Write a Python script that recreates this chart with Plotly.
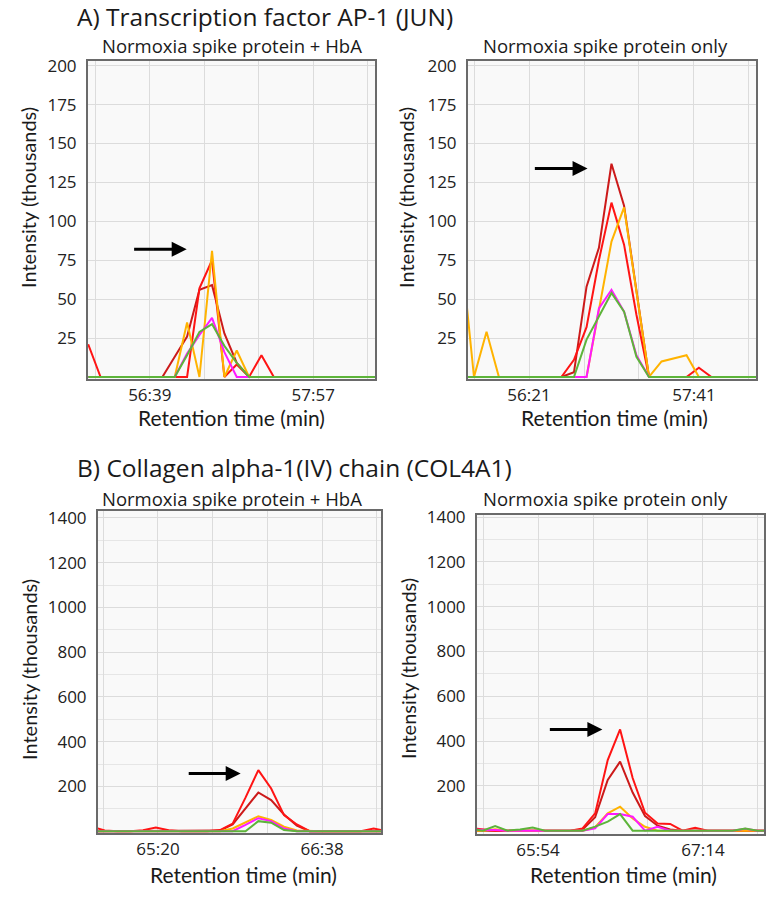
import plotly.graph_objects as go

W, H = 772, 898

# ---------------- Data (retention time in seconds, intensity in thousands) ----------------
# A) JUN, left panel: Normoxia spike protein + HbA
a1_time = [3369.6, 3375.5, 3381.4, 3387.3, 3393.2, 3399.1, 3405.0, 3410.9, 3416.8, 3422.7,
           3428.7, 3434.6, 3440.5, 3446.4, 3452.3, 3458.2, 3464.1, 3470.0, 3475.9, 3481.8,
           3487.7, 3493.6, 3499.5, 3505.4, 3511.3]
a1_red_dark = [0, 0, 0, 0, 0, 0, 0, 13, 26, 56, 59, 28, 9, 0, 0, 0, 0, 0, 0, 0, 0, 0, 0, 0, 0]
a1_red = [21, 0, 0, 0, 0, 0, 0, 0, 0, 57, 75, 0, 8, 0, 14, 0, 0, 0, 0, 0, 0, 0, 0, 0, 0]
a1_orange = [0, 0, 0, 0, 0, 0, 0, 0, 35, 0, 81, 0, 17, 0, 0, 0, 0, 0, 0, 0, 0, 0, 0, 0, 0]
a1_magenta = [0, 0, 0, 0, 0, 0, 0, 0, 15, 27, 38, 16, 0, 0, 0, 0, 0, 0, 0, 0, 0, 0, 0, 0, 0]
a1_green = [0, 0, 0, 0, 0, 0, 0, 0, 14, 29, 34, 20, 9, 0, 0, 0, 0, 0, 0, 0, 0, 0, 0, 0, 0]

# A) JUN, right panel: Normoxia spike protein only
a2_time = [3348.2, 3354.3, 3360.4, 3366.4, 3372.5, 3378.5, 3384.6, 3390.7, 3396.7, 3402.8,
           3408.9, 3414.9, 3421.0, 3427.1, 3433.1, 3439.2, 3445.3, 3451.3, 3457.4, 3463.4,
           3469.5, 3475.6, 3481.6, 3487.7, 3493.8]
a2_red_dark = [0, 0, 0, 0, 0, 0, 0, 0, 0, 3, 58, 83, 137, 110, 55, 0, 0, 0, 0, 0, 0, 0, 0, 0, 0]
a2_red = [0, 0, 0, 0, 0, 0, 0, 0, 0, 11, 32, 75, 112, 85, 40, 0, 0, 0, 0, 6, 0, 0, 0, 0, 0]
a2_orange = [80, 0, 29, 0, 0, 0, 0, 0, 0, 0, 0, 43, 87, 109, 55, 0, 10, 12, 14, 0, 0, 0, 0, 0, 0]
a2_magenta = [0, 0, 0, 0, 0, 0, 0, 0, 0, 0, 0, 44, 56, 42, 14, 0, 0, 0, 0, 0, 0, 0, 0, 0, 0]
a2_green = [0, 0, 0, 0, 0, 0, 0, 0, 0, 0, 24, 39, 54, 42, 13, 0, 0, 0, 0, 0, 0, 0, 0, 0, 0]

# B) COL4A1, left panel: Normoxia spike protein + HbA
b1_time = [3888.6, 3894.7, 3900.8, 3906.9, 3912.9, 3919.0, 3925.1, 3931.2, 3937.3, 3943.4,
           3949.5, 3955.5, 3961.6, 3967.7, 3973.8, 3979.9, 3986.0, 3992.1, 3998.1, 4004.2,
           4010.3, 4016.4, 4022.5, 4028.5]
b1_red_dark = [0, 0, 0, 0, 0, 0, 0, 0, 0, 0, 3, 30, 100, 173, 139, 75, 25, 0, 0, 0, 0, 0, 0, 0]
b1_red = [20, 3, 0, 0, 4, 16, 4, 0, 0, 0, 5, 34, 150, 273, 191, 72, 30, 0, 0, 0, 0, 0, 12, 0]
b1_orange = [0, 0, 0, 0, 0, 0, 0, 0, 0, 0, 0, 12, 40, 67, 50, 20, 3, 0, 0, 0, 0, 0, 0, 0]
b1_magenta = [0, 0, 0, 0, 0, 0, 0, 0, 0, 0, 0, 0, 28, 58, 45, 12, 0, 0, 0, 0, 0, 0, 0, 0]
b1_green = [0, 0, 0, 0, 0, 0, 0, 0, 0, 0, 0, 0, 0, 45, 38, 5, 0, 0, 0, 0, 0, 0, 0, 0]

# B) COL4A1, right panel: Normoxia spike protein only
b2_time = [3921.1, 3927.1, 3933.2, 3939.2, 3945.3, 3951.4, 3957.4, 3963.5, 3969.6, 3975.6,
           3981.7, 3987.8, 3993.8, 3999.9, 4005.9, 4012.0, 4018.1, 4024.1, 4030.2, 4036.3,
           4042.3, 4048.4, 4054.5, 4060.5, 4066.6]
b2_red_dark = [0, 0, 0, 0, 0, 0, 0, 0, 0, 5, 60, 226, 308, 170, 65, 22, 5, 0, 0, 0, 0, 0, 0, 0, 0]
b2_red = [12, 5, 0, 0, 0, 0, 0, 0, 0, 10, 77, 315, 452, 235, 80, 32, 30, 0, 13, 0, 0, 0, 0, 0, 0]
b2_orange = [0, 0, 6, 0, 0, 0, 0, 0, 0, 0, 15, 77, 107, 54, 17, 0, 0, 0, 0, 0, 0, 0, 0, 0, 0]
b2_magenta = [4, 5, 3, 0, 0, 0, 0, 0, 0, 0, 10, 74, 74, 62, 0, 17, 0, 0, 0, 0, 0, 0, 8, 0, 0]
b2_green = [8, 0, 20, 0, 5, 14, 0, 0, 0, 0, 18, 40, 74, 0, 0, 0, 0, 0, 0, 0, 0, 0, 10, 0, 0]

# Tick positions (seconds) and labels
a1_xticks = [3373, 3399, 3425, 3451, 3477, 3503]
a1_xlabels = ["", "56:39", "", "", "57:57", ""]
a2_xticks = [3354.33, 3381, 3407.67, 3434.33, 3461, 3487.67]
a2_xlabels = ["", "56:21", "", "", "57:41", ""]
b1_xticks = [3894, 3920, 3946, 3972, 3998, 4024]
b1_xlabels = ["", "65:20", "", "", "66:38", ""]
b2_xticks = [3927.33, 3954, 3980.67, 4007.33, 4034, 4060.67]
b2_xlabels = ["", "65:54", "", "", "67:14", ""]
a_yticks = [25, 50, 75, 100, 125, 150, 175, 200]
b_yticks = [200, 400, 600, 800, 1000, 1200, 1400]
b_yminor = [100, 300, 500, 700, 900, 1100, 1300]

# Arrows: (tail time, head time, intensity)
a1_arrow = (3390.8, 3416.6, 82)
a2_arrow = (3383.1, 3409.4, 134)
b1_arrow = (3933.9, 3959.3, 258)
b2_arrow = (3959.0, 3985.2, 452)

series_colors = ["#cc1a1a", "#ff1414", "#ffb300", "#ff1aff", "#5db43a"]

# ---------------- Layout helpers ----------------
def px_x(p):
    return p / W

def px_y(p):
    return 1 - p / H

TICK_FONT = dict(family="Open Sans", size=17, color="#222222")

panels = [
    dict(ax="", t=a1_time, ys=[a1_red_dark, a1_red, a1_orange, a1_magenta, a1_green],
         dom_x=(88, 375), dom_y=(61, 379), xr=[3369.5, 3506.5], yr=[-1.3, 203],
         xt=a1_xticks, xl=a1_xlabels, yt=a_yticks, ym=None, arrow=a1_arrow),
    dict(ax="2", t=a2_time, ys=[a2_red_dark, a2_red, a2_orange, a2_magenta, a2_green],
         dom_x=(468, 756), dom_y=(61, 379), xr=[3351.4, 3491.1], yr=[-1.3, 203],
         xt=a2_xticks, xl=a2_xlabels, yt=a_yticks, ym=None, arrow=a2_arrow),
    dict(ax="3", t=b1_time, ys=[b1_red_dark, b1_red, b1_orange, b1_magenta, b1_green],
         dom_x=(98, 381), dom_y=(511, 833), xr=[3891.5, 4026.0], yr=[-8, 1431],
         xt=b1_xticks, xl=b1_xlabels, yt=b_yticks, ym=b_yminor, arrow=b1_arrow),
    dict(ax="4", t=b2_time, ys=[b2_red_dark, b2_red, b2_orange, b2_magenta, b2_green],
         dom_x=(477, 764), dom_y=(515, 834), xr=[3924.4, 4063.6], yr=[-15, 1409],
         xt=b2_xticks, xl=b2_xlabels, yt=b_yticks, ym=b_yminor, arrow=b2_arrow),
]

fig = go.Figure()
layout = dict(
    width=W, height=H, margin=dict(l=0, r=0, t=0, b=0, pad=0, autoexpand=False),
    paper_bgcolor="white", plot_bgcolor="#f9f9f9", showlegend=False,
)

annotations = []
for p in panels:
    xa = "x" + p["ax"]
    ya = "y" + p["ax"]
    for vals, col in zip(p["ys"], series_colors):
        fig.add_trace(go.Scatter(x=p["t"], y=vals, mode="lines", xaxis=xa, yaxis=ya,
                                 line=dict(color=col, width=2), hoverinfo="skip"))
    xkey = "xaxis" + p["ax"]
    ykey = "yaxis" + p["ax"]
    layout[xkey] = dict(
        domain=[px_x(p["dom_x"][0]), px_x(p["dom_x"][1])], anchor=ya, range=p["xr"],
        tickmode="array", tickvals=p["xt"], ticktext=p["xl"], showgrid=True,
        gridcolor="#dcdcdc", gridwidth=1, zeroline=False, showline=True, linecolor="#6a6a6a",
        linewidth=2, mirror=True, ticks="", tickfont=TICK_FONT, ticklabelstandoff=0,
        layer="below traces", automargin=False,
    )
    ydict = dict(
        domain=[px_y(p["dom_y"][1]), px_y(p["dom_y"][0])], anchor=xa, range=p["yr"],
        tickmode="array", tickvals=p["yt"], showgrid=True, gridcolor="#dcdcdc", gridwidth=1,
        zeroline=False, showline=True, linecolor="#6a6a6a", linewidth=2, mirror=True,
        ticks="", tickfont=TICK_FONT, ticklabelstandoff=6, layer="below traces",
        automargin=False,
    )
    if p["ym"] is not None:
        ydict["minor"] = dict(tickmode="array", tickvals=p["ym"], showgrid=True,
                              gridcolor="#e6e6e6", gridwidth=1, ticks="")
    layout[ykey] = ydict
    tail_t, head_t, v = p["arrow"]
    annotations.append(dict(
        x=head_t, y=v, ax=tail_t, ay=v, xref=xa, yref=ya, axref=xa, ayref=ya,
        text="", showarrow=True, arrowhead=2, arrowsize=1, arrowwidth=3,
        arrowcolor="black", standoff=0, startstandoff=0,
    ))

# Texts: main titles, subplot titles, axis titles
def text_ann(txt, x, y, size, family, xanchor="center", angle=0):
    return dict(text=txt, x=px_x(x), y=px_y(y), xref="paper", yref="paper",
                xanchor=xanchor, yanchor="middle", showarrow=False, textangle=angle,
                borderpad=0, font=dict(family=family, size=size, color="#1a1a1a"))

annotations += [
    text_ann("A) Transcription factor AP-1 (JUN)", 76, 16, 24.5, "Open Sans", xanchor="left"),
    text_ann("B) Collagen alpha-1(IV) chain (COL4A1)", 76, 467, 24.5, "Open Sans", xanchor="left"),
    text_ann("Normoxia spike protein + HbA", 232, 46, 18.5, "Open Sans"),
    text_ann("Normoxia spike protein only", 605, 46, 18.5, "Open Sans"),
    text_ann("Normoxia spike protein + HbA", 232, 498, 18.5, "Open Sans"),
    text_ann("Normoxia spike protein only", 605, 498, 18.5, "Open Sans"),
    text_ann("Retention time (min)", 231, 418, 21, "Lato"),
    text_ann("Retention time (min)", 614, 418, 21, "Lato"),
    text_ann("Retention time (min)", 243, 874, 21, "Lato"),
    text_ann("Retention time (min)", 623, 874, 21, "Lato"),
    text_ann("Intensity (thousands)", 28, 198, 20, "Lato", angle=-90),
    text_ann("Intensity (thousands)", 406, 198, 20, "Lato", angle=-90),
    text_ann("Intensity (thousands)", 29, 670, 20, "Lato", angle=-90),
    text_ann("Intensity (thousands)", 408, 669, 20, "Lato", angle=-90),
]
layout["annotations"] = annotations
fig.update_layout(**layout)

fig.write_html("out.html", config={"displayModeBar": False},
               post_script="document.body.style.margin='0';")
